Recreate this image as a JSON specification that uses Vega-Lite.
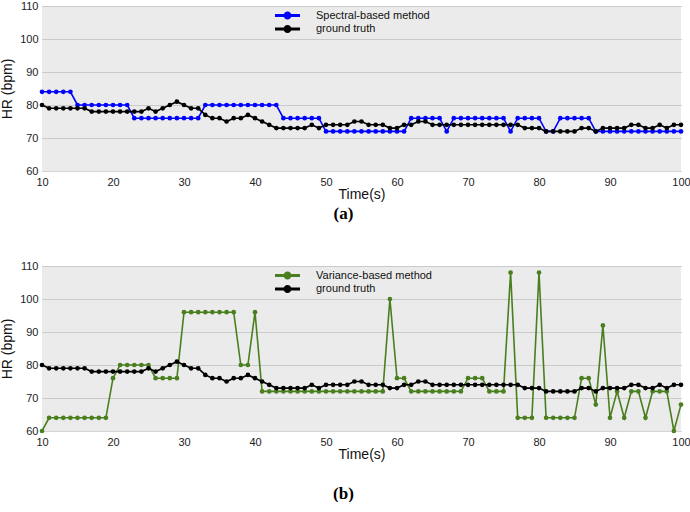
{
"$schema": "https://vega.github.io/schema/vega-lite/v6.json",
"background": "white",
"autosize": {"type": "pad"},
"padding": {"left": 0, "top": 0, "right": 2, "bottom": 0},
"config": {
  "font": "Liberation Sans",
  "view": {"fill": "#ebebeb", "stroke": null},
  "axis": {"ticks": false, "domain": false, "grid": false, "labelFont": "Liberation Sans", "labelFontSize": 11, "labelColor": "#222222", "titleFont": "Liberation Sans", "titleFontSize": 14, "titleFontWeight": "normal", "titleColor": "#111111"},
  "axisY": {"grid": true, "gridColor": "#a8a8a8", "gridDash": [1, 1], "labelPadding": 4, "titlePadding": 5},
  "axisX": {"labelPadding": 5, "titlePadding": 0, "labelFlush": false},
  "title": {"orient": "bottom", "font": "Liberation Serif", "fontWeight": "bold", "fontSize": 17, "color": "#000000", "anchor": "middle", "dx": -18}
},
"datasets": {
  "hr": [
{"t":10,"ground truth":80,"Spectral-based method":84,"Variance-based method":60},
{"t":11,"ground truth":79,"Spectral-based method":84,"Variance-based method":64},
{"t":12,"ground truth":79,"Spectral-based method":84,"Variance-based method":64},
{"t":13,"ground truth":79,"Spectral-based method":84,"Variance-based method":64},
{"t":14,"ground truth":79,"Spectral-based method":84,"Variance-based method":64},
{"t":15,"ground truth":79,"Spectral-based method":80,"Variance-based method":64},
{"t":16,"ground truth":79,"Spectral-based method":80,"Variance-based method":64},
{"t":17,"ground truth":78,"Spectral-based method":80,"Variance-based method":64},
{"t":18,"ground truth":78,"Spectral-based method":80,"Variance-based method":64},
{"t":19,"ground truth":78,"Spectral-based method":80,"Variance-based method":64},
{"t":20,"ground truth":78,"Spectral-based method":80,"Variance-based method":76},
{"t":21,"ground truth":78,"Spectral-based method":80,"Variance-based method":80},
{"t":22,"ground truth":78,"Spectral-based method":80,"Variance-based method":80},
{"t":23,"ground truth":78,"Spectral-based method":76,"Variance-based method":80},
{"t":24,"ground truth":78,"Spectral-based method":76,"Variance-based method":80},
{"t":25,"ground truth":79,"Spectral-based method":76,"Variance-based method":80},
{"t":26,"ground truth":78,"Spectral-based method":76,"Variance-based method":76},
{"t":27,"ground truth":79,"Spectral-based method":76,"Variance-based method":76},
{"t":28,"ground truth":80,"Spectral-based method":76,"Variance-based method":76},
{"t":29,"ground truth":81,"Spectral-based method":76,"Variance-based method":76},
{"t":30,"ground truth":80,"Spectral-based method":76,"Variance-based method":96},
{"t":31,"ground truth":79,"Spectral-based method":76,"Variance-based method":96},
{"t":32,"ground truth":79,"Spectral-based method":76,"Variance-based method":96},
{"t":33,"ground truth":77,"Spectral-based method":80,"Variance-based method":96},
{"t":34,"ground truth":76,"Spectral-based method":80,"Variance-based method":96},
{"t":35,"ground truth":76,"Spectral-based method":80,"Variance-based method":96},
{"t":36,"ground truth":75,"Spectral-based method":80,"Variance-based method":96},
{"t":37,"ground truth":76,"Spectral-based method":80,"Variance-based method":96},
{"t":38,"ground truth":76,"Spectral-based method":80,"Variance-based method":80},
{"t":39,"ground truth":77,"Spectral-based method":80,"Variance-based method":80},
{"t":40,"ground truth":76,"Spectral-based method":80,"Variance-based method":96},
{"t":41,"ground truth":75,"Spectral-based method":80,"Variance-based method":72},
{"t":42,"ground truth":74,"Spectral-based method":80,"Variance-based method":72},
{"t":43,"ground truth":73,"Spectral-based method":80,"Variance-based method":72},
{"t":44,"ground truth":73,"Spectral-based method":76,"Variance-based method":72},
{"t":45,"ground truth":73,"Spectral-based method":76,"Variance-based method":72},
{"t":46,"ground truth":73,"Spectral-based method":76,"Variance-based method":72},
{"t":47,"ground truth":73,"Spectral-based method":76,"Variance-based method":72},
{"t":48,"ground truth":74,"Spectral-based method":76,"Variance-based method":72},
{"t":49,"ground truth":73,"Spectral-based method":76,"Variance-based method":72},
{"t":50,"ground truth":74,"Spectral-based method":72,"Variance-based method":72},
{"t":51,"ground truth":74,"Spectral-based method":72,"Variance-based method":72},
{"t":52,"ground truth":74,"Spectral-based method":72,"Variance-based method":72},
{"t":53,"ground truth":74,"Spectral-based method":72,"Variance-based method":72},
{"t":54,"ground truth":75,"Spectral-based method":72,"Variance-based method":72},
{"t":55,"ground truth":75,"Spectral-based method":72,"Variance-based method":72},
{"t":56,"ground truth":74,"Spectral-based method":72,"Variance-based method":72},
{"t":57,"ground truth":74,"Spectral-based method":72,"Variance-based method":72},
{"t":58,"ground truth":74,"Spectral-based method":72,"Variance-based method":72},
{"t":59,"ground truth":73,"Spectral-based method":72,"Variance-based method":100},
{"t":60,"ground truth":73,"Spectral-based method":72,"Variance-based method":76},
{"t":61,"ground truth":74,"Spectral-based method":72,"Variance-based method":76},
{"t":62,"ground truth":74,"Spectral-based method":76,"Variance-based method":72},
{"t":63,"ground truth":75,"Spectral-based method":76,"Variance-based method":72},
{"t":64,"ground truth":75,"Spectral-based method":76,"Variance-based method":72},
{"t":65,"ground truth":74,"Spectral-based method":76,"Variance-based method":72},
{"t":66,"ground truth":74,"Spectral-based method":76,"Variance-based method":72},
{"t":67,"ground truth":74,"Spectral-based method":72,"Variance-based method":72},
{"t":68,"ground truth":74,"Spectral-based method":76,"Variance-based method":72},
{"t":69,"ground truth":74,"Spectral-based method":76,"Variance-based method":72},
{"t":70,"ground truth":74,"Spectral-based method":76,"Variance-based method":76},
{"t":71,"ground truth":74,"Spectral-based method":76,"Variance-based method":76},
{"t":72,"ground truth":74,"Spectral-based method":76,"Variance-based method":76},
{"t":73,"ground truth":74,"Spectral-based method":76,"Variance-based method":72},
{"t":74,"ground truth":74,"Spectral-based method":76,"Variance-based method":72},
{"t":75,"ground truth":74,"Spectral-based method":76,"Variance-based method":72},
{"t":76,"ground truth":74,"Spectral-based method":72,"Variance-based method":108},
{"t":77,"ground truth":74,"Spectral-based method":76,"Variance-based method":64},
{"t":78,"ground truth":73,"Spectral-based method":76,"Variance-based method":64},
{"t":79,"ground truth":73,"Spectral-based method":76,"Variance-based method":64},
{"t":80,"ground truth":73,"Spectral-based method":76,"Variance-based method":108},
{"t":81,"ground truth":72,"Spectral-based method":72,"Variance-based method":64},
{"t":82,"ground truth":72,"Spectral-based method":72,"Variance-based method":64},
{"t":83,"ground truth":72,"Spectral-based method":76,"Variance-based method":64},
{"t":84,"ground truth":72,"Spectral-based method":76,"Variance-based method":64},
{"t":85,"ground truth":72,"Spectral-based method":76,"Variance-based method":64},
{"t":86,"ground truth":73,"Spectral-based method":76,"Variance-based method":76},
{"t":87,"ground truth":73,"Spectral-based method":76,"Variance-based method":76},
{"t":88,"ground truth":72,"Spectral-based method":72,"Variance-based method":68},
{"t":89,"ground truth":73,"Spectral-based method":72,"Variance-based method":92},
{"t":90,"ground truth":73,"Spectral-based method":72,"Variance-based method":64},
{"t":91,"ground truth":73,"Spectral-based method":72,"Variance-based method":72},
{"t":92,"ground truth":73,"Spectral-based method":72,"Variance-based method":64},
{"t":93,"ground truth":74,"Spectral-based method":72,"Variance-based method":72},
{"t":94,"ground truth":74,"Spectral-based method":72,"Variance-based method":72},
{"t":95,"ground truth":73,"Spectral-based method":72,"Variance-based method":64},
{"t":96,"ground truth":73,"Spectral-based method":72,"Variance-based method":72},
{"t":97,"ground truth":74,"Spectral-based method":72,"Variance-based method":72},
{"t":98,"ground truth":73,"Spectral-based method":72,"Variance-based method":72},
{"t":99,"ground truth":74,"Spectral-based method":72,"Variance-based method":60},
{"t":100,"ground truth":74,"Spectral-based method":72,"Variance-based method":68}
  ]
},
"spacing": 38,
"vconcat": [
  {
    "width": 639, "height": 165,
    "title": {"text": "(a)", "offset": 5},
    "data": {"name": "hr"},
    "transform": [{"fold": ["Spectral-based method", "ground truth"], "as": ["series", "value"]}],
    "encoding": {
      "x": {"field": "t", "type": "quantitative", "scale": {"domain": [10, 100], "nice": false}, "axis": {"values": [10, 20, 30, 40, 50, 60, 70, 80, 90, 100], "title": "Time(s)"}},
      "y": {"field": "value", "type": "quantitative", "scale": {"domain": [60, 110], "nice": false, "zero": false}, "axis": {"values": [60, 70, 80, 90, 100, 110], "title": "HR (bpm)"}}
    },
    "layer": [
      {"mark": {"type": "line", "strokeWidth": 1.6}, "encoding": {"stroke": {"field": "series", "type": "nominal", "scale": {"domain": ["ground truth", "Spectral-based method"], "range": ["#000000", "#0000ff"]}, "legend": null}}},
      {"mark": {"type": "point", "filled": true, "size": 22, "opacity": 1}, "encoding": {"color": {"field": "series", "type": "nominal", "scale": {"domain": ["Spectral-based method", "ground truth"], "range": ["#0000ff", "#000000"]}, "legend": {"title": null, "orient": "none", "legendX": 239, "legendY": 3, "padding": 0, "labelFont": "Liberation Sans", "labelFontSize": 11, "labelColor": "#111111", "labelOffset": 22, "symbolType": "M-2,-0.24H2V0.24H-2Z M0.64,0 A0.64,0.64 0 1,1 -0.64,0 A0.64,0.64 0 1,1 0.64,0Z", "symbolSize": 156, "symbolStrokeWidth": 0, "rowPadding": 1.5}}}}
    ]
  },
  {
    "width": 639, "height": 165,
    "title": {"text": "(b)", "offset": 25},
    "data": {"name": "hr"},
    "transform": [{"fold": ["Variance-based method", "ground truth"], "as": ["series", "value"]}],
    "encoding": {
      "x": {"field": "t", "type": "quantitative", "scale": {"domain": [10, 100], "nice": false}, "axis": {"values": [10, 20, 30, 40, 50, 60, 70, 80, 90, 100], "title": "Time(s)"}},
      "y": {"field": "value", "type": "quantitative", "scale": {"domain": [60, 110], "nice": false, "zero": false}, "axis": {"values": [60, 70, 80, 90, 100, 110], "title": "HR (bpm)"}}
    },
    "layer": [
      {"mark": {"type": "line", "strokeWidth": 1.6}, "encoding": {"stroke": {"field": "series", "type": "nominal", "scale": {"domain": ["ground truth", "Variance-based method"], "range": ["#000000", "#4a7f1f"]}, "legend": null}}},
      {"mark": {"type": "point", "filled": true, "size": 22, "opacity": 1}, "encoding": {"color": {"field": "series", "type": "nominal", "scale": {"domain": ["Variance-based method", "ground truth"], "range": ["#4a7f1f", "#000000"]}, "legend": {"title": null, "orient": "none", "legendX": 239, "legendY": 3, "padding": 0, "labelFont": "Liberation Sans", "labelFontSize": 11, "labelColor": "#111111", "labelOffset": 22, "symbolType": "M-2,-0.24H2V0.24H-2Z M0.64,0 A0.64,0.64 0 1,1 -0.64,0 A0.64,0.64 0 1,1 0.64,0Z", "symbolSize": 156, "symbolStrokeWidth": 0, "rowPadding": 1.5}}}}
    ]
  }
],
"resolve": {"scale": {"color": "independent", "stroke": "independent"}, "legend": {"color": "independent"}}
}
